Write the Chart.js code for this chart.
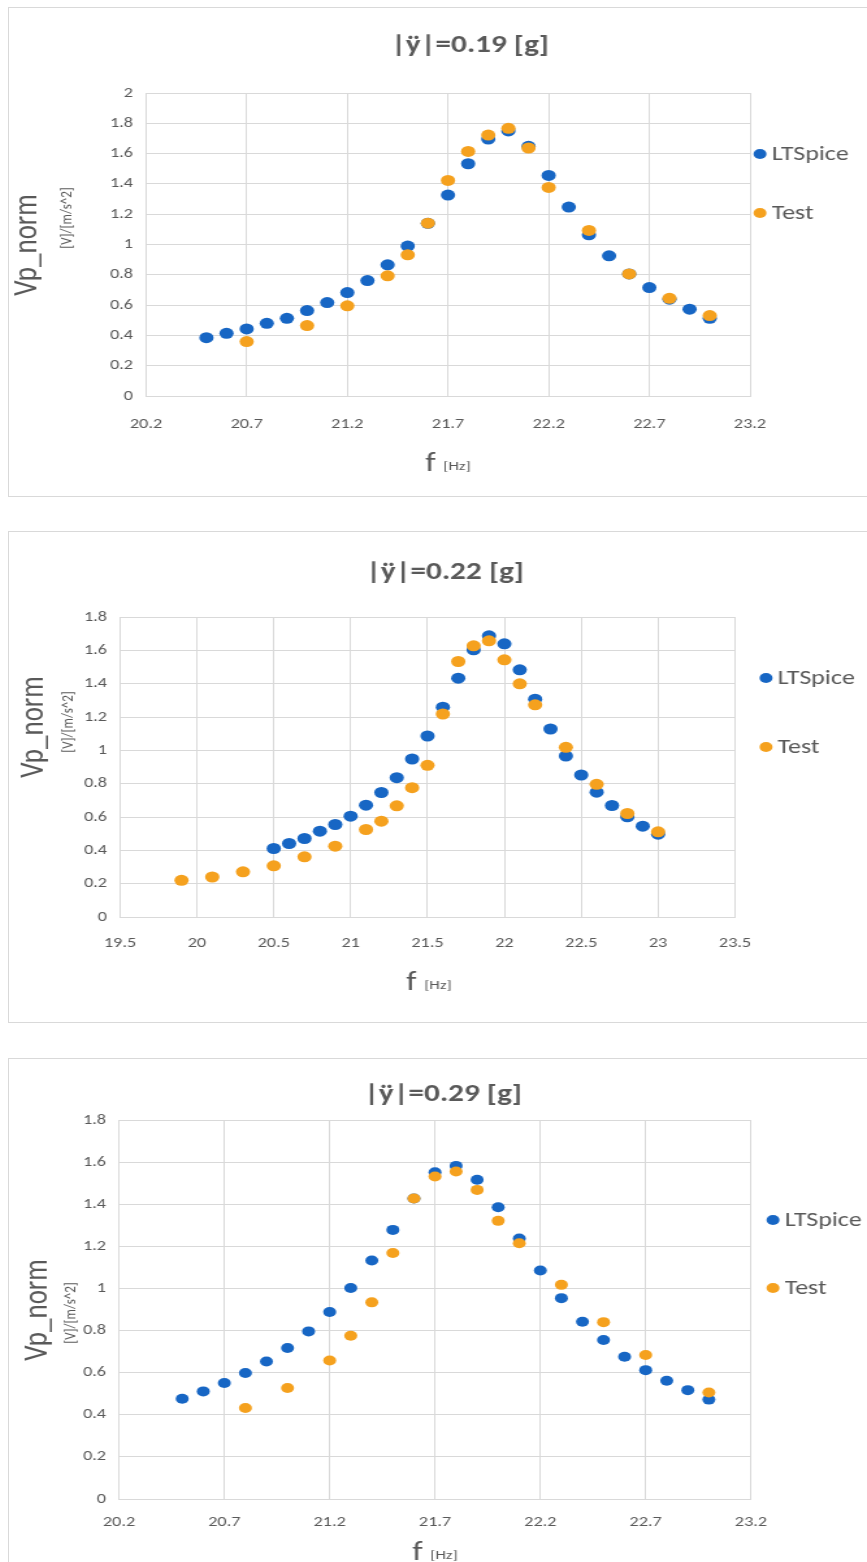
<!DOCTYPE html>
<html>
<head>
<meta charset="utf-8">
<title>Vp_norm vs f</title>
<script src="https://cdn.jsdelivr.net/npm/chart.js@4.4.1/dist/chart.umd.min.js"></script>
<style>
    body { margin: 0; background: #fff; width: 867px; height: 1562px; position: relative; overflow: hidden; }
    .box { position: absolute; left: 8px; width: 858px; border: 1px solid #d9d9d9; background: #fff; overflow: hidden; }
    /* the source picture is stretched sideways, so the canvases are too */
    canvas { display: block; width: 858px; }
</style>
</head>
<body>
<div class="box" style="top:7px;height:488px"><canvas id="c1"></canvas></div>
<div class="box" style="top:531px;height:490px"><canvas id="c2"></canvas></div>
<div class="box" style="top:1058px;height:510px"><canvas id="c3"></canvas></div>

<script>
// DATA

// |ÿ|=0.19 [g]
const f019Lt = [20.5, 20.6, 20.7, 20.8, 20.9, 21.0, 21.1, 21.2, 21.3, 21.4, 21.5, 21.6, 21.7,
                21.8, 21.9, 22.0, 22.1, 22.2, 22.3, 22.4, 22.5, 22.6, 22.7, 22.8, 22.9, 23.0];
const vp019Lt = [0.385, 0.414, 0.443, 0.48, 0.513, 0.564, 0.617, 0.683, 0.762, 0.866, 0.99, 1.14, 1.326,
                 1.533, 1.696, 1.75, 1.648, 1.456, 1.247, 1.064, 0.925, 0.806, 0.716, 0.639, 0.573, 0.513];
const f019Test = [20.7, 21.0, 21.2, 21.4, 21.5, 21.6, 21.7, 21.8, 21.9, 22.0, 22.1, 22.2, 22.4, 22.6, 22.8, 23.0];
const vp019Test = [0.359, 0.465, 0.595, 0.793, 0.932, 1.141, 1.423, 1.614, 1.722, 1.767, 1.637, 1.377, 1.093, 0.806, 0.645, 0.531];

// |ÿ|=0.22 [g]
const f022Lt = [20.5, 20.6, 20.7, 20.8, 20.9, 21.0, 21.1, 21.2, 21.3, 21.4, 21.5, 21.6, 21.7,
                21.8, 21.9, 22.0, 22.1, 22.2, 22.3, 22.4, 22.5, 22.6, 22.7, 22.8, 22.9, 23.0];
const vp022Lt = [0.411, 0.441, 0.471, 0.515, 0.555, 0.605, 0.671, 0.747, 0.836, 0.948, 1.086, 1.259, 1.433,
                 1.603, 1.687, 1.639, 1.483, 1.307, 1.128, 0.966, 0.852, 0.749, 0.669, 0.601, 0.545, 0.497];
const f022Test = [19.9, 20.1, 20.3, 20.5, 20.7, 20.9, 21.1, 21.2, 21.3, 21.4, 21.5,
                  21.6, 21.7, 21.8, 21.9, 22.0, 22.1, 22.2, 22.4, 22.6, 22.8, 23.0];
const vp022Test = [0.22, 0.24, 0.271, 0.307, 0.361, 0.425, 0.525, 0.575, 0.667, 0.776, 0.91,
                   1.218, 1.533, 1.627, 1.657, 1.543, 1.399, 1.273, 1.018, 0.796, 0.621, 0.511];

// |ÿ|=0.29 [g]
const f029Lt = [20.5, 20.6, 20.7, 20.8, 20.9, 21.0, 21.1, 21.2, 21.3, 21.4, 21.5, 21.6, 21.7,
                21.8, 21.9, 22.0, 22.1, 22.2, 22.3, 22.4, 22.5, 22.6, 22.7, 22.8, 22.9, 23.0];
const vp029Lt = [0.476, 0.511, 0.551, 0.598, 0.653, 0.717, 0.796, 0.888, 1.002, 1.133, 1.278, 1.427, 1.552,
                 1.582, 1.516, 1.386, 1.237, 1.085, 0.954, 0.842, 0.755, 0.676, 0.612, 0.562, 0.517, 0.472];
const f029Test = [20.8, 21.0, 21.2, 21.3, 21.4, 21.5, 21.6, 21.7, 21.8, 21.9, 22.0, 22.1, 22.3, 22.5, 22.7, 23.0];
const vp029Test = [0.432, 0.527, 0.658, 0.775, 0.934, 1.168, 1.427, 1.532, 1.555, 1.468, 1.321, 1.215, 1.017, 0.84, 0.684, 0.506];

// axis ranges / ticks: [min, max, step]
const xRange019 = [20.2, 23.2, 0.5];
const xRange022 = [19.5, 23.5, 0.5];
const xRange029 = [20.2, 23.2, 0.5];
const yRange019 = [0, 2, 0.2];
const yRange022 = [0, 1.8, 0.2];
const yRange029 = [0, 1.8, 0.2];

const seriesNames = ['LTSpice', 'Test'];
const titles = ['|ÿ|=0.19 [g]', '|ÿ|=0.22 [g]', '|ÿ|=0.29 [g]'];

// STYLE
const FONT = "Carlito, Lato, 'Open Sans', sans-serif";
const TEXT = '#595959';
const GRID = '#d9d9d9';
const BLUE = '#1766c4';
const ORANGE = '#f5a11e';

const S = 1.3;          // horizontal stretch of the picture
const CW = 858;         // shown canvas width
const W = Math.round(CW / S);  // drawn canvas width
const YW = 31;          // y scale width (drawn px)
const sx = v => v / S;  // shown px -> drawn px

// Excel-like texts: title, two-size axis titles, legend on the right
const excelText = {
    id: 'excelText',
    afterDraw(chart, args, o) {
        const ctx = chart.ctx;
        ctx.save();
        ctx.fillStyle = TEXT;

        // chart title
        ctx.textAlign = 'center';
        ctx.textBaseline = 'middle';
        ctx.font = 'bold 24px ' + FONT;
        ctx.fillText(o.title, sx(o.titlePos[0]), o.titlePos[1]);

        // y axis title, rotated
        ctx.save();
        ctx.translate(sx(o.yTitle[0]), o.yTitle[1]);
        ctx.rotate(-Math.PI / 2);
        ctx.font = '27px ' + FONT;
        ctx.fillText('Vp_norm', 0, 0);
        ctx.restore();
        ctx.save();
        ctx.translate(sx(o.yUnit[0]), o.yUnit[1]);
        ctx.rotate(-Math.PI / 2);
        ctx.font = '13px ' + FONT;
        ctx.fillText('[V]/[m/s^2]', 0, 0);
        ctx.restore();

        // x axis title: big "f" + small "[Hz]"
        ctx.textAlign = 'left';
        ctx.textBaseline = 'alphabetic';
        ctx.font = '26px ' + FONT;
        const wf = ctx.measureText('f ').width;
        ctx.font = '13px ' + FONT;
        const wu = ctx.measureText('[Hz]').width;
        const x0 = sx(o.xTitle[0]) - (wf + wu) / 2;
        ctx.font = '26px ' + FONT;
        ctx.fillText('f', x0, o.xTitle[1]);
        ctx.font = '13px ' + FONT;
        ctx.fillText('[Hz]', x0 + wf, o.xTitle[1] - 1);

        // legend
        ctx.textBaseline = 'middle';
        ctx.font = '20px ' + FONT;
        chart.data.datasets.forEach((ds, i) => {
            const lx = sx(o.legend[i][0]), ly = o.legend[i][1];
            ctx.fillStyle = ds.backgroundColor;
            ctx.beginPath();
            ctx.arc(lx, ly, 5, 0, Math.PI * 2);
            ctx.fill();
            ctx.fillStyle = TEXT;
            ctx.fillText(ds.label, lx + 9, ly + 1);
        });
        ctx.restore();
    }
};

function toPoints(xs, ys) {
    return xs.map((x, i) => ({ x: x, y: ys[i] }));
}

function fmt(v) {
    return String(+v.toFixed(2));
}

// plot = [left, right, top, bottom] of the plot area, in shown canvas px
function makeChart(id, height, lt, test, xr, yr, layout) {
    const canvas = document.getElementById(id);
    canvas.width = W;
    canvas.height = height;
    canvas.style.height = height + 'px';
    const [pl, pr, pt, pb] = layout.plot;
    const XH = 34;

    new Chart(canvas.getContext('2d'), {
        type: 'scatter',
        data: {
            datasets: [
                {
                    label: seriesNames[0],
                    data: lt,
                    backgroundColor: BLUE,
                    borderColor: BLUE,
                    pointRadius: layout.r,
                    borderWidth: 0,
                    order: 1
                },
                {
                    label: seriesNames[1],
                    data: test,
                    backgroundColor: ORANGE,
                    borderColor: ORANGE,
                    pointRadius: layout.r,
                    borderWidth: 0,
                    order: 0
                }
            ]
        },
        options: {
            responsive: false,
            animation: false,
            devicePixelRatio: 1,
            layout: {
                padding: { left: sx(pl) - YW, right: W - sx(pr), top: pt, bottom: height - pb - XH }
            },
            plugins: {
                legend: { display: false },
                tooltip: { enabled: false },
                excelText: layout.text
            },
            scales: {
                x: {
                    type: 'linear',
                    min: xr[0], max: xr[1],
                    afterFit: s => { s.height = XH; },
                    ticks: { stepSize: xr[2], color: TEXT, font: { family: FONT, size: 14 }, padding: layout.xPad, callback: fmt, maxRotation: 0 },
                    grid: { color: GRID, drawTicks: false },
                    border: { color: GRID }
                },
                y: {
                    min: yr[0], max: yr[1],
                    afterFit: s => { s.width = YW; },
                    ticks: { stepSize: yr[2], color: TEXT, font: { family: FONT, size: 14 }, padding: 10, callback: fmt },
                    grid: { color: GRID, drawTicks: false },
                    border: { color: GRID }
                }
            }
        },
        plugins: [excelText]
    });
}

makeChart('c1', 488, toPoints(f019Lt, vp019Lt), toPoints(f019Test, vp019Test), xRange019, yRange019, {
    r: 5.5,
    plot: [137, 741, 85, 388],
    xPad: 20,
    text: {
        title: titles[0], titlePos: [461, 38],
        yTitle: [18, 237], yUnit: [58, 210],
        xTitle: [439, 463],
        legend: [[751, 146], [751, 205]]
    }
});

makeChart('c2', 490, toPoints(f022Lt, vp022Lt), toPoints(f022Test, vp022Test), xRange022, yRange022, {
    r: 5.5,
    plot: [111, 726, 85, 385],
    xPad: 18,
    text: {
        title: titles[1], titlePos: [436, 41],
        yTitle: [25, 195], yUnit: [60, 190],
        xTitle: [420, 458],
        legend: [[757, 146], [757, 215]]
    }
});

makeChart('c3', 503, toPoints(f029Lt, vp029Lt), toPoints(f029Test, vp029Test), xRange029, yRange029, {
    r: 5,
    plot: [110, 742, 61, 440],
    xPad: 15,
    text: {
        title: titles[2], titlePos: [434, 36],
        yTitle: [29, 251], yUnit: [62, 254],
        xTitle: [426, 501],
        legend: [[764, 161], [764, 229]]
    }
});
</script>
</body>
</html>
